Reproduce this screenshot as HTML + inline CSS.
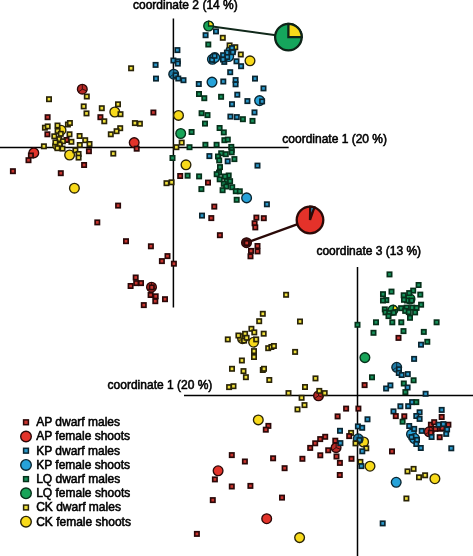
<!DOCTYPE html>
<html><head><meta charset="utf-8"><style>
html,body{margin:0;padding:0;background:#fff;}
body{width:473px;height:556px;overflow:hidden;font-family:"Liberation Sans",sans-serif;}
svg{display:block;}
</style></head><body>
<svg width="473" height="556" viewBox="0 0 473 556">
<rect width="473" height="556" fill="#fff"/>
<line x1="173.4" y1="18.5" x2="173.4" y2="307.5" stroke="#000" stroke-width="1.5"/>
<line x1="0" y1="147.4" x2="288.7" y2="147.4" stroke="#000" stroke-width="1.5"/>
<line x1="357.5" y1="266.9" x2="357.5" y2="556" stroke="#000" stroke-width="1.5"/>
<line x1="184" y1="395.4" x2="473" y2="395.4" stroke="#000" stroke-width="1.5"/>
<line x1="208.6" y1="26.0" x2="276" y2="35.2" stroke="#10281a" stroke-width="2.0"/>
<line x1="246.7" y1="242.6" x2="297" y2="224.4" stroke="#2a0a08" stroke-width="2.2"/>
<circle cx="61.00" cy="130.20" r="4.85" fill="#f8da1a" stroke="#2a2408" stroke-width="1.35"/>
<circle cx="57.60" cy="145.30" r="4.85" fill="#f8da1a" stroke="#2a2408" stroke-width="1.35"/>
<circle cx="69.60" cy="155.00" r="4.85" fill="#f8da1a" stroke="#2a2408" stroke-width="1.35"/>
<circle cx="33.80" cy="152.90" r="4.85" fill="#e2332a" stroke="#2a0808" stroke-width="1.35"/>
<circle cx="74.40" cy="188.20" r="4.85" fill="#f8da1a" stroke="#2a2408" stroke-width="1.35"/>
<circle cx="114.80" cy="112.00" r="4.85" fill="#f8da1a" stroke="#2a2408" stroke-width="1.35"/>
<circle cx="134.20" cy="142.60" r="4.85" fill="#e2332a" stroke="#2a0808" stroke-width="1.35"/>
<circle cx="230.90" cy="50.70" r="4.85" fill="#26a2d9" stroke="#0a2530" stroke-width="1.35"/>
<circle cx="228.70" cy="56.50" r="4.85" fill="#26a2d9" stroke="#0a2530" stroke-width="1.35"/>
<circle cx="212.40" cy="59.30" r="4.85" fill="#26a2d9" stroke="#0a2530" stroke-width="1.35"/>
<circle cx="214.80" cy="57.60" r="4.85" fill="#26a2d9" stroke="#0a2530" stroke-width="1.35"/>
<circle cx="250.00" cy="60.80" r="4.85" fill="#f8da1a" stroke="#2a2408" stroke-width="1.35"/>
<circle cx="212.00" cy="82.10" r="4.85" fill="#26a2d9" stroke="#0a2530" stroke-width="1.35"/>
<circle cx="259.60" cy="100.60" r="4.85" fill="#26a2d9" stroke="#0a2530" stroke-width="1.35"/>
<circle cx="178.50" cy="115.40" r="4.85" fill="#f8da1a" stroke="#2a2408" stroke-width="1.35"/>
<circle cx="180.70" cy="133.50" r="4.85" fill="#17a458" stroke="#06301a" stroke-width="1.35"/>
<circle cx="186.00" cy="164.80" r="4.85" fill="#f8da1a" stroke="#2a2408" stroke-width="1.35"/>
<circle cx="246.60" cy="197.90" r="4.85" fill="#26a2d9" stroke="#0a2530" stroke-width="1.35"/>
<circle cx="410.00" cy="299.00" r="4.85" fill="#17a458" stroke="#06301a" stroke-width="1.35"/>
<circle cx="364.90" cy="357.60" r="4.85" fill="#17a458" stroke="#06301a" stroke-width="1.35"/>
<circle cx="253.60" cy="342.20" r="4.85" fill="#f8da1a" stroke="#2a2408" stroke-width="1.35"/>
<circle cx="258.30" cy="419.90" r="4.85" fill="#f8da1a" stroke="#2a2408" stroke-width="1.35"/>
<circle cx="218.10" cy="470.80" r="4.85" fill="#e2332a" stroke="#2a0808" stroke-width="1.35"/>
<circle cx="266.70" cy="518.70" r="4.85" fill="#e2332a" stroke="#2a0808" stroke-width="1.35"/>
<circle cx="299.60" cy="537.60" r="4.85" fill="#f8da1a" stroke="#2a2408" stroke-width="1.35"/>
<circle cx="363.60" cy="442.00" r="4.85" fill="#f8da1a" stroke="#2a2408" stroke-width="1.35"/>
<circle cx="370.00" cy="466.20" r="4.85" fill="#f8da1a" stroke="#2a2408" stroke-width="1.35"/>
<circle cx="434.90" cy="478.70" r="4.85" fill="#f8da1a" stroke="#2a2408" stroke-width="1.35"/>
<circle cx="396.20" cy="482.30" r="4.85" fill="#26a2d9" stroke="#0a2530" stroke-width="1.35"/>
<circle cx="411.50" cy="434.20" r="4.85" fill="#26a2d9" stroke="#0a2530" stroke-width="1.35"/>
<circle cx="414.50" cy="438.50" r="4.85" fill="#26a2d9" stroke="#0a2530" stroke-width="1.35"/>
<circle cx="208.6" cy="26.0" r="4.85" fill="#17a458" stroke="#06301a" stroke-width="1.35"/><path d="M208.6,26.0 L208.60,21.15 A4.85,4.85 0 0 1 213.45,26.00 Z" fill="#f8da1a" stroke="#06301a" stroke-width="1.35" stroke-linejoin="miter"/>
<circle cx="392.9" cy="310.1" r="4.85" fill="#17a458" stroke="#06301a" stroke-width="1.35"/><path d="M392.9,310.1 L393.74,305.32 A4.85,4.85 0 0 1 397.68,309.26 Z" fill="#f8da1a" stroke="#06301a" stroke-width="1.35" stroke-linejoin="miter"/>
<circle cx="82.30" cy="89.20" r="4.85" fill="#b82a26" stroke="#2a0808" stroke-width="1.35"/><path d="M82.30,89.20 L82.30,84.35 M82.30,89.20 L86.86,90.86 M82.30,89.20 L78.33,91.98 " stroke="#2a0808" stroke-width="0.9" fill="none"/>
<circle cx="173.70" cy="74.20" r="4.85" fill="#1f7aa5" stroke="#0a2530" stroke-width="1.35"/><path d="M173.70,74.20 L173.70,69.35 M173.70,74.20 L178.26,75.86 M173.70,74.20 L169.73,76.98 " stroke="#0a2530" stroke-width="0.9" fill="none"/>
<circle cx="246.50" cy="242.70" r="4.85" fill="#4a1212" stroke="#2a0808" stroke-width="1.35"/>
<circle cx="151.50" cy="287.20" r="4.85" fill="#b82a26" stroke="#2a0808" stroke-width="1.35"/><path d="M151.50,287.20 L151.50,282.35 M151.50,287.20 L156.06,288.86 M151.50,287.20 L147.53,289.98 " stroke="#2a0808" stroke-width="0.9" fill="none"/>
<circle cx="396.70" cy="367.30" r="4.85" fill="#1f7aa5" stroke="#0a2530" stroke-width="1.35"/><path d="M396.70,367.30 L396.70,362.45 M396.70,367.30 L401.26,368.96 M396.70,367.30 L392.73,370.08 " stroke="#0a2530" stroke-width="0.9" fill="none"/>
<circle cx="242.50" cy="338.60" r="4.85" fill="#a89620" stroke="#2a2408" stroke-width="1.35"/><path d="M242.50,338.60 L242.50,333.75 M242.50,338.60 L247.06,340.26 M242.50,338.60 L238.53,341.38 " stroke="#2a2408" stroke-width="0.9" fill="none"/>
<circle cx="318.50" cy="395.80" r="4.85" fill="#b82a26" stroke="#2a0808" stroke-width="1.35"/><path d="M318.50,395.80 L318.50,390.95 M318.50,395.80 L323.06,397.46 M318.50,395.80 L314.53,398.58 " stroke="#2a0808" stroke-width="0.9" fill="none"/>
<circle cx="358.20" cy="438.80" r="4.85" fill="#1f7aa5" stroke="#0a2530" stroke-width="1.35"/><path d="M358.20,438.80 L358.20,433.95 M358.20,438.80 L362.76,440.46 M358.20,438.80 L354.23,441.58 " stroke="#0a2530" stroke-width="0.9" fill="none"/>
<circle cx="336.10" cy="447.60" r="4.85" fill="#b82a26" stroke="#2a0808" stroke-width="1.35"/><path d="M336.10,447.60 L336.10,442.75 M336.10,447.60 L340.66,449.26 M336.10,447.60 L332.13,450.38 " stroke="#2a0808" stroke-width="0.9" fill="none"/>
<circle cx="429.20" cy="431.80" r="4.85" fill="#b82a26" stroke="#2a0808" stroke-width="1.35"/><path d="M429.20,431.80 L429.20,426.95 M429.20,431.80 L433.76,433.46 M429.20,431.80 L425.23,434.58 " stroke="#2a0808" stroke-width="0.9" fill="none"/>
<rect x="84.62" y="94.33" width="4.35" height="4.35" fill="#efe03c" stroke="#2a2408" stroke-width="1.65"/>
<rect x="46.83" y="97.03" width="4.35" height="4.35" fill="#efe03c" stroke="#2a2408" stroke-width="1.65"/>
<rect x="81.53" y="104.23" width="4.35" height="4.35" fill="#efe03c" stroke="#2a2408" stroke-width="1.65"/>
<rect x="84.33" y="111.23" width="4.35" height="4.35" fill="#efe03c" stroke="#2a2408" stroke-width="1.65"/>
<rect x="45.43" y="115.03" width="4.35" height="4.35" fill="#c8352f" stroke="#2a0808" stroke-width="1.65"/>
<rect x="42.73" y="125.53" width="4.35" height="4.35" fill="#efe03c" stroke="#2a2408" stroke-width="1.65"/>
<rect x="45.53" y="124.23" width="4.35" height="4.35" fill="#efe03c" stroke="#2a2408" stroke-width="1.65"/>
<rect x="55.33" y="123.33" width="4.35" height="4.35" fill="#efe03c" stroke="#2a2408" stroke-width="1.65"/>
<rect x="65.73" y="122.33" width="4.35" height="4.35" fill="#efe03c" stroke="#2a2408" stroke-width="1.65"/>
<rect x="67.73" y="120.83" width="4.35" height="4.35" fill="#efe03c" stroke="#2a2408" stroke-width="1.65"/>
<rect x="55.43" y="128.72" width="4.35" height="4.35" fill="#efe03c" stroke="#2a2408" stroke-width="1.65"/>
<rect x="58.62" y="131.62" width="4.35" height="4.35" fill="#efe03c" stroke="#2a2408" stroke-width="1.65"/>
<rect x="45.23" y="132.12" width="4.35" height="4.35" fill="#c8352f" stroke="#2a0808" stroke-width="1.65"/>
<rect x="52.12" y="134.12" width="4.35" height="4.35" fill="#efe03c" stroke="#2a2408" stroke-width="1.65"/>
<rect x="67.33" y="132.12" width="4.35" height="4.35" fill="#efe03c" stroke="#2a2408" stroke-width="1.65"/>
<rect x="77.42" y="133.82" width="4.35" height="4.35" fill="#efe03c" stroke="#2a2408" stroke-width="1.65"/>
<rect x="57.12" y="136.92" width="4.35" height="4.35" fill="#efe03c" stroke="#2a2408" stroke-width="1.65"/>
<rect x="64.33" y="137.82" width="4.35" height="4.35" fill="#c8352f" stroke="#2a0808" stroke-width="1.65"/>
<rect x="60.73" y="139.12" width="4.35" height="4.35" fill="#efe03c" stroke="#2a2408" stroke-width="1.65"/>
<rect x="69.23" y="139.62" width="4.35" height="4.35" fill="#efe03c" stroke="#2a2408" stroke-width="1.65"/>
<rect x="83.03" y="138.02" width="4.35" height="4.35" fill="#efe03c" stroke="#2a2408" stroke-width="1.65"/>
<rect x="87.33" y="141.82" width="4.35" height="4.35" fill="#efe03c" stroke="#2a2408" stroke-width="1.65"/>
<rect x="77.62" y="142.82" width="4.35" height="4.35" fill="#efe03c" stroke="#2a2408" stroke-width="1.65"/>
<rect x="57.53" y="142.42" width="4.35" height="4.35" fill="#efe03c" stroke="#2a2408" stroke-width="1.65"/>
<rect x="53.23" y="140.22" width="4.35" height="4.35" fill="#efe03c" stroke="#2a2408" stroke-width="1.65"/>
<rect x="60.33" y="146.42" width="4.35" height="4.35" fill="#efe03c" stroke="#2a2408" stroke-width="1.65"/>
<rect x="55.23" y="146.02" width="4.35" height="4.35" fill="#efe03c" stroke="#2a2408" stroke-width="1.65"/>
<rect x="41.73" y="144.12" width="4.35" height="4.35" fill="#efe03c" stroke="#2a2408" stroke-width="1.65"/>
<rect x="73.23" y="148.12" width="4.35" height="4.35" fill="#efe03c" stroke="#2a2408" stroke-width="1.65"/>
<rect x="76.42" y="151.82" width="4.35" height="4.35" fill="#efe03c" stroke="#2a2408" stroke-width="1.65"/>
<rect x="76.42" y="155.42" width="4.35" height="4.35" fill="#efe03c" stroke="#2a2408" stroke-width="1.65"/>
<rect x="86.73" y="149.02" width="4.35" height="4.35" fill="#c8352f" stroke="#2a0808" stroke-width="1.65"/>
<rect x="28.72" y="153.32" width="4.35" height="4.35" fill="#c8352f" stroke="#2a0808" stroke-width="1.65"/>
<rect x="26.32" y="158.02" width="4.35" height="4.35" fill="#c8352f" stroke="#2a0808" stroke-width="1.65"/>
<rect x="81.92" y="162.82" width="4.35" height="4.35" fill="#c8352f" stroke="#2a0808" stroke-width="1.65"/>
<rect x="10.73" y="169.02" width="4.35" height="4.35" fill="#c8352f" stroke="#2a0808" stroke-width="1.65"/>
<rect x="58.62" y="171.02" width="4.35" height="4.35" fill="#c8352f" stroke="#2a0808" stroke-width="1.65"/>
<rect x="95.12" y="220.22" width="4.35" height="4.35" fill="#c8352f" stroke="#2a0808" stroke-width="1.65"/>
<rect x="99.62" y="106.03" width="4.35" height="4.35" fill="#efe03c" stroke="#2a2408" stroke-width="1.65"/>
<rect x="115.83" y="102.12" width="4.35" height="4.35" fill="#efe03c" stroke="#2a2408" stroke-width="1.65"/>
<rect x="118.33" y="112.03" width="4.35" height="4.35" fill="#efe03c" stroke="#2a2408" stroke-width="1.65"/>
<rect x="98.23" y="115.03" width="4.35" height="4.35" fill="#c8352f" stroke="#2a0808" stroke-width="1.65"/>
<rect x="102.12" y="119.12" width="4.35" height="4.35" fill="#efe03c" stroke="#2a2408" stroke-width="1.65"/>
<rect x="132.72" y="120.92" width="4.35" height="4.35" fill="#efe03c" stroke="#2a2408" stroke-width="1.65"/>
<rect x="137.72" y="121.53" width="4.35" height="4.35" fill="#efe03c" stroke="#2a2408" stroke-width="1.65"/>
<rect x="151.22" y="110.33" width="4.35" height="4.35" fill="#c8352f" stroke="#2a0808" stroke-width="1.65"/>
<rect x="118.03" y="126.02" width="4.35" height="4.35" fill="#efe03c" stroke="#2a2408" stroke-width="1.65"/>
<rect x="114.42" y="129.02" width="4.35" height="4.35" fill="#efe03c" stroke="#2a2408" stroke-width="1.65"/>
<rect x="108.62" y="132.12" width="4.35" height="4.35" fill="#efe03c" stroke="#2a2408" stroke-width="1.65"/>
<rect x="134.52" y="146.52" width="4.35" height="4.35" fill="#c8352f" stroke="#2a0808" stroke-width="1.65"/>
<rect x="111.12" y="151.42" width="4.35" height="4.35" fill="#efe03c" stroke="#2a2408" stroke-width="1.65"/>
<rect x="128.92" y="66.12" width="4.35" height="4.35" fill="#efe03c" stroke="#2a2408" stroke-width="1.65"/>
<rect x="153.42" y="62.73" width="4.35" height="4.35" fill="#2a97c9" stroke="#0a2530" stroke-width="1.65"/>
<rect x="153.82" y="76.42" width="4.35" height="4.35" fill="#2a97c9" stroke="#0a2530" stroke-width="1.65"/>
<rect x="175.22" y="47.93" width="4.35" height="4.35" fill="#2a97c9" stroke="#0a2530" stroke-width="1.65"/>
<rect x="171.22" y="58.33" width="4.35" height="4.35" fill="#2a97c9" stroke="#0a2530" stroke-width="1.65"/>
<rect x="175.62" y="59.12" width="4.35" height="4.35" fill="#2a97c9" stroke="#0a2530" stroke-width="1.65"/>
<rect x="175.62" y="61.43" width="4.35" height="4.35" fill="#2a97c9" stroke="#0a2530" stroke-width="1.65"/>
<rect x="173.42" y="73.12" width="4.35" height="4.35" fill="#2a97c9" stroke="#0a2530" stroke-width="1.65"/>
<rect x="176.12" y="76.33" width="4.35" height="4.35" fill="#2a97c9" stroke="#0a2530" stroke-width="1.65"/>
<rect x="181.32" y="78.03" width="4.35" height="4.35" fill="#2a97c9" stroke="#0a2530" stroke-width="1.65"/>
<rect x="196.62" y="81.83" width="4.35" height="4.35" fill="#2a97c9" stroke="#0a2530" stroke-width="1.65"/>
<rect x="213.82" y="29.22" width="4.35" height="4.35" fill="#2a97c9" stroke="#0a2530" stroke-width="1.65"/>
<rect x="203.42" y="33.03" width="4.35" height="4.35" fill="#2a97c9" stroke="#0a2530" stroke-width="1.65"/>
<rect x="220.62" y="35.62" width="4.35" height="4.35" fill="#efe03c" stroke="#2a2408" stroke-width="1.65"/>
<rect x="206.12" y="42.33" width="4.35" height="4.35" fill="#17905a" stroke="#06301a" stroke-width="1.65"/>
<rect x="227.42" y="43.23" width="4.35" height="4.35" fill="#efe03c" stroke="#2a2408" stroke-width="1.65"/>
<rect x="233.12" y="45.03" width="4.35" height="4.35" fill="#efe03c" stroke="#2a2408" stroke-width="1.65"/>
<rect x="229.82" y="45.93" width="4.35" height="4.35" fill="#2a97c9" stroke="#0a2530" stroke-width="1.65"/>
<rect x="224.72" y="50.43" width="4.35" height="4.35" fill="#2a97c9" stroke="#0a2530" stroke-width="1.65"/>
<rect x="230.62" y="50.03" width="4.35" height="4.35" fill="#2a97c9" stroke="#0a2530" stroke-width="1.65"/>
<rect x="220.92" y="53.03" width="4.35" height="4.35" fill="#2a97c9" stroke="#0a2530" stroke-width="1.65"/>
<rect x="225.02" y="54.83" width="4.35" height="4.35" fill="#2a97c9" stroke="#0a2530" stroke-width="1.65"/>
<rect x="222.12" y="59.73" width="4.35" height="4.35" fill="#2a97c9" stroke="#0a2530" stroke-width="1.65"/>
<rect x="220.82" y="57.33" width="4.35" height="4.35" fill="#2a97c9" stroke="#0a2530" stroke-width="1.65"/>
<rect x="209.82" y="57.62" width="4.35" height="4.35" fill="#2a97c9" stroke="#0a2530" stroke-width="1.65"/>
<rect x="212.42" y="53.62" width="4.35" height="4.35" fill="#2a97c9" stroke="#0a2530" stroke-width="1.65"/>
<rect x="238.62" y="52.33" width="4.35" height="4.35" fill="#efe03c" stroke="#2a2408" stroke-width="1.65"/>
<rect x="234.32" y="59.12" width="4.35" height="4.35" fill="#2a97c9" stroke="#0a2530" stroke-width="1.65"/>
<rect x="238.92" y="64.03" width="4.35" height="4.35" fill="#2a97c9" stroke="#0a2530" stroke-width="1.65"/>
<rect x="221.12" y="79.33" width="4.35" height="4.35" fill="#2a97c9" stroke="#0a2530" stroke-width="1.65"/>
<rect x="233.42" y="77.92" width="4.35" height="4.35" fill="#2a97c9" stroke="#0a2530" stroke-width="1.65"/>
<rect x="233.42" y="82.12" width="4.35" height="4.35" fill="#2a97c9" stroke="#0a2530" stroke-width="1.65"/>
<rect x="228.02" y="70.03" width="4.35" height="4.35" fill="#2a97c9" stroke="#0a2530" stroke-width="1.65"/>
<rect x="252.82" y="76.42" width="4.35" height="4.35" fill="#2a97c9" stroke="#0a2530" stroke-width="1.65"/>
<rect x="261.32" y="86.23" width="4.35" height="4.35" fill="#2a97c9" stroke="#0a2530" stroke-width="1.65"/>
<rect x="235.12" y="92.53" width="4.35" height="4.35" fill="#2a97c9" stroke="#0a2530" stroke-width="1.65"/>
<rect x="259.93" y="99.23" width="4.35" height="4.35" fill="#2a97c9" stroke="#0a2530" stroke-width="1.65"/>
<rect x="245.22" y="98.92" width="4.35" height="4.35" fill="#2a97c9" stroke="#0a2530" stroke-width="1.65"/>
<rect x="229.82" y="102.03" width="4.35" height="4.35" fill="#2a97c9" stroke="#0a2530" stroke-width="1.65"/>
<rect x="252.32" y="110.23" width="4.35" height="4.35" fill="#2a97c9" stroke="#0a2530" stroke-width="1.65"/>
<rect x="228.22" y="114.42" width="4.35" height="4.35" fill="#2a97c9" stroke="#0a2530" stroke-width="1.65"/>
<rect x="234.62" y="114.92" width="4.35" height="4.35" fill="#2a97c9" stroke="#0a2530" stroke-width="1.65"/>
<rect x="240.72" y="117.03" width="4.35" height="4.35" fill="#17905a" stroke="#06301a" stroke-width="1.65"/>
<rect x="250.32" y="118.73" width="4.35" height="4.35" fill="#17905a" stroke="#06301a" stroke-width="1.65"/>
<rect x="196.82" y="91.83" width="4.35" height="4.35" fill="#17905a" stroke="#06301a" stroke-width="1.65"/>
<rect x="202.12" y="96.03" width="4.35" height="4.35" fill="#17905a" stroke="#06301a" stroke-width="1.65"/>
<rect x="218.92" y="94.62" width="4.35" height="4.35" fill="#17905a" stroke="#06301a" stroke-width="1.65"/>
<rect x="199.42" y="111.03" width="4.35" height="4.35" fill="#17905a" stroke="#06301a" stroke-width="1.65"/>
<rect x="205.32" y="112.92" width="4.35" height="4.35" fill="#17905a" stroke="#06301a" stroke-width="1.65"/>
<rect x="202.82" y="121.42" width="4.35" height="4.35" fill="#17905a" stroke="#06301a" stroke-width="1.65"/>
<rect x="189.42" y="129.82" width="4.35" height="4.35" fill="#17905a" stroke="#06301a" stroke-width="1.65"/>
<rect x="217.42" y="125.83" width="4.35" height="4.35" fill="#17905a" stroke="#06301a" stroke-width="1.65"/>
<rect x="221.62" y="130.22" width="4.35" height="4.35" fill="#17905a" stroke="#06301a" stroke-width="1.65"/>
<rect x="222.22" y="138.02" width="4.35" height="4.35" fill="#17905a" stroke="#06301a" stroke-width="1.65"/>
<rect x="225.62" y="137.42" width="4.35" height="4.35" fill="#17905a" stroke="#06301a" stroke-width="1.65"/>
<rect x="179.52" y="140.42" width="4.35" height="4.35" fill="#efe03c" stroke="#2a2408" stroke-width="1.65"/>
<rect x="203.22" y="142.62" width="4.35" height="4.35" fill="#17905a" stroke="#06301a" stroke-width="1.65"/>
<rect x="214.42" y="142.62" width="4.35" height="4.35" fill="#17905a" stroke="#06301a" stroke-width="1.65"/>
<rect x="174.22" y="145.02" width="4.35" height="4.35" fill="#efe03c" stroke="#2a2408" stroke-width="1.65"/>
<rect x="187.32" y="145.02" width="4.35" height="4.35" fill="#17905a" stroke="#06301a" stroke-width="1.65"/>
<rect x="229.12" y="144.72" width="4.35" height="4.35" fill="#17905a" stroke="#06301a" stroke-width="1.65"/>
<rect x="229.52" y="147.62" width="4.35" height="4.35" fill="#17905a" stroke="#06301a" stroke-width="1.65"/>
<rect x="229.52" y="150.12" width="4.35" height="4.35" fill="#17905a" stroke="#06301a" stroke-width="1.65"/>
<rect x="219.02" y="151.12" width="4.35" height="4.35" fill="#17905a" stroke="#06301a" stroke-width="1.65"/>
<rect x="223.62" y="152.02" width="4.35" height="4.35" fill="#17905a" stroke="#06301a" stroke-width="1.65"/>
<rect x="215.82" y="154.32" width="4.35" height="4.35" fill="#17905a" stroke="#06301a" stroke-width="1.65"/>
<rect x="217.02" y="158.22" width="4.35" height="4.35" fill="#17905a" stroke="#06301a" stroke-width="1.65"/>
<rect x="207.22" y="153.92" width="4.35" height="4.35" fill="#2a97c9" stroke="#0a2530" stroke-width="1.65"/>
<rect x="225.52" y="159.12" width="4.35" height="4.35" fill="#2a97c9" stroke="#0a2530" stroke-width="1.65"/>
<rect x="232.22" y="156.92" width="4.35" height="4.35" fill="#17905a" stroke="#06301a" stroke-width="1.65"/>
<rect x="170.32" y="155.82" width="4.35" height="4.35" fill="#17905a" stroke="#06301a" stroke-width="1.65"/>
<rect x="217.82" y="164.92" width="4.35" height="4.35" fill="#17905a" stroke="#06301a" stroke-width="1.65"/>
<rect x="216.82" y="170.42" width="4.35" height="4.35" fill="#17905a" stroke="#06301a" stroke-width="1.65"/>
<rect x="214.52" y="172.02" width="4.35" height="4.35" fill="#17905a" stroke="#06301a" stroke-width="1.65"/>
<rect x="178.02" y="173.82" width="4.35" height="4.35" fill="#c8352f" stroke="#2a0808" stroke-width="1.65"/>
<rect x="185.42" y="173.52" width="4.35" height="4.35" fill="#17905a" stroke="#06301a" stroke-width="1.65"/>
<rect x="196.92" y="174.22" width="4.35" height="4.35" fill="#17905a" stroke="#06301a" stroke-width="1.65"/>
<rect x="226.52" y="173.32" width="4.35" height="4.35" fill="#17905a" stroke="#06301a" stroke-width="1.65"/>
<rect x="222.82" y="174.32" width="4.35" height="4.35" fill="#17905a" stroke="#06301a" stroke-width="1.65"/>
<rect x="217.52" y="177.12" width="4.35" height="4.35" fill="#17905a" stroke="#06301a" stroke-width="1.65"/>
<rect x="224.42" y="179.02" width="4.35" height="4.35" fill="#17905a" stroke="#06301a" stroke-width="1.65"/>
<rect x="227.92" y="179.02" width="4.35" height="4.35" fill="#17905a" stroke="#06301a" stroke-width="1.65"/>
<rect x="205.82" y="180.42" width="4.35" height="4.35" fill="#c8352f" stroke="#2a0808" stroke-width="1.65"/>
<rect x="199.22" y="186.92" width="4.35" height="4.35" fill="#17905a" stroke="#06301a" stroke-width="1.65"/>
<rect x="221.62" y="181.62" width="4.35" height="4.35" fill="#17905a" stroke="#06301a" stroke-width="1.65"/>
<rect x="224.12" y="184.32" width="4.35" height="4.35" fill="#17905a" stroke="#06301a" stroke-width="1.65"/>
<rect x="230.02" y="185.02" width="4.35" height="4.35" fill="#17905a" stroke="#06301a" stroke-width="1.65"/>
<rect x="220.42" y="188.02" width="4.35" height="4.35" fill="#17905a" stroke="#06301a" stroke-width="1.65"/>
<rect x="233.62" y="189.02" width="4.35" height="4.35" fill="#17905a" stroke="#06301a" stroke-width="1.65"/>
<rect x="237.62" y="189.12" width="4.35" height="4.35" fill="#17905a" stroke="#06301a" stroke-width="1.65"/>
<rect x="169.42" y="180.12" width="4.35" height="4.35" fill="#efe03c" stroke="#2a2408" stroke-width="1.65"/>
<rect x="164.32" y="181.02" width="4.35" height="4.35" fill="#efe03c" stroke="#2a2408" stroke-width="1.65"/>
<rect x="234.52" y="197.62" width="4.35" height="4.35" fill="#17905a" stroke="#06301a" stroke-width="1.65"/>
<rect x="264.72" y="202.12" width="4.35" height="4.35" fill="#2a97c9" stroke="#0a2530" stroke-width="1.65"/>
<rect x="255.32" y="163.42" width="4.35" height="4.35" fill="#2a97c9" stroke="#0a2530" stroke-width="1.65"/>
<rect x="212.12" y="204.42" width="4.35" height="4.35" fill="#c8352f" stroke="#2a0808" stroke-width="1.65"/>
<rect x="199.82" y="213.42" width="4.35" height="4.35" fill="#2a97c9" stroke="#0a2530" stroke-width="1.65"/>
<rect x="209.12" y="215.92" width="4.35" height="4.35" fill="#c8352f" stroke="#2a0808" stroke-width="1.65"/>
<rect x="217.72" y="233.02" width="4.35" height="4.35" fill="#c8352f" stroke="#2a0808" stroke-width="1.65"/>
<rect x="254.22" y="215.42" width="4.35" height="4.35" fill="#c8352f" stroke="#2a0808" stroke-width="1.65"/>
<rect x="261.62" y="216.02" width="4.35" height="4.35" fill="#c8352f" stroke="#2a0808" stroke-width="1.65"/>
<rect x="252.42" y="221.12" width="4.35" height="4.35" fill="#c8352f" stroke="#2a0808" stroke-width="1.65"/>
<rect x="253.12" y="225.22" width="4.35" height="4.35" fill="#c8352f" stroke="#2a0808" stroke-width="1.65"/>
<rect x="244.52" y="240.82" width="4.35" height="4.35" fill="#c8352f" stroke="#2a0808" stroke-width="1.65"/>
<rect x="255.32" y="243.82" width="4.35" height="4.35" fill="#c8352f" stroke="#2a0808" stroke-width="1.65"/>
<rect x="255.32" y="249.22" width="4.35" height="4.35" fill="#c8352f" stroke="#2a0808" stroke-width="1.65"/>
<rect x="248.82" y="248.72" width="4.35" height="4.35" fill="#c8352f" stroke="#2a0808" stroke-width="1.65"/>
<rect x="248.32" y="254.12" width="4.35" height="4.35" fill="#c8352f" stroke="#2a0808" stroke-width="1.65"/>
<rect x="115.92" y="203.42" width="4.35" height="4.35" fill="#c8352f" stroke="#2a0808" stroke-width="1.65"/>
<rect x="123.83" y="239.02" width="4.35" height="4.35" fill="#c8352f" stroke="#2a0808" stroke-width="1.65"/>
<rect x="148.72" y="244.12" width="4.35" height="4.35" fill="#c8352f" stroke="#2a0808" stroke-width="1.65"/>
<rect x="165.32" y="253.93" width="4.35" height="4.35" fill="#c8352f" stroke="#2a0808" stroke-width="1.65"/>
<rect x="159.72" y="258.93" width="4.35" height="4.35" fill="#c8352f" stroke="#2a0808" stroke-width="1.65"/>
<rect x="171.72" y="261.52" width="4.35" height="4.35" fill="#c8352f" stroke="#2a0808" stroke-width="1.65"/>
<rect x="133.52" y="275.32" width="4.35" height="4.35" fill="#c8352f" stroke="#2a0808" stroke-width="1.65"/>
<rect x="134.02" y="280.93" width="4.35" height="4.35" fill="#c8352f" stroke="#2a0808" stroke-width="1.65"/>
<rect x="138.82" y="280.93" width="4.35" height="4.35" fill="#c8352f" stroke="#2a0808" stroke-width="1.65"/>
<rect x="128.42" y="283.82" width="4.35" height="4.35" fill="#c8352f" stroke="#2a0808" stroke-width="1.65"/>
<rect x="149.62" y="285.22" width="4.35" height="4.35" fill="#c8352f" stroke="#2a0808" stroke-width="1.65"/>
<rect x="148.42" y="292.82" width="4.35" height="4.35" fill="#c8352f" stroke="#2a0808" stroke-width="1.65"/>
<rect x="153.52" y="294.12" width="4.35" height="4.35" fill="#c8352f" stroke="#2a0808" stroke-width="1.65"/>
<rect x="153.12" y="299.02" width="4.35" height="4.35" fill="#c8352f" stroke="#2a0808" stroke-width="1.65"/>
<rect x="162.82" y="297.02" width="4.35" height="4.35" fill="#c8352f" stroke="#2a0808" stroke-width="1.65"/>
<rect x="141.62" y="302.93" width="4.35" height="4.35" fill="#c8352f" stroke="#2a0808" stroke-width="1.65"/>
<rect x="387.32" y="272.22" width="4.35" height="4.35" fill="#17905a" stroke="#06301a" stroke-width="1.65"/>
<rect x="416.43" y="282.82" width="4.35" height="4.35" fill="#17905a" stroke="#06301a" stroke-width="1.65"/>
<rect x="389.32" y="289.43" width="4.35" height="4.35" fill="#17905a" stroke="#06301a" stroke-width="1.65"/>
<rect x="380.82" y="292.02" width="4.35" height="4.35" fill="#17905a" stroke="#06301a" stroke-width="1.65"/>
<rect x="384.12" y="297.93" width="4.35" height="4.35" fill="#17905a" stroke="#06301a" stroke-width="1.65"/>
<rect x="380.82" y="298.32" width="4.35" height="4.35" fill="#17905a" stroke="#06301a" stroke-width="1.65"/>
<rect x="411.02" y="288.43" width="4.35" height="4.35" fill="#17905a" stroke="#06301a" stroke-width="1.65"/>
<rect x="407.02" y="290.93" width="4.35" height="4.35" fill="#17905a" stroke="#06301a" stroke-width="1.65"/>
<rect x="418.12" y="292.43" width="4.35" height="4.35" fill="#17905a" stroke="#06301a" stroke-width="1.65"/>
<rect x="401.52" y="293.12" width="4.35" height="4.35" fill="#17905a" stroke="#06301a" stroke-width="1.65"/>
<rect x="404.82" y="298.32" width="4.35" height="4.35" fill="#17905a" stroke="#06301a" stroke-width="1.65"/>
<rect x="409.52" y="298.32" width="4.35" height="4.35" fill="#17905a" stroke="#06301a" stroke-width="1.65"/>
<rect x="401.82" y="297.62" width="4.35" height="4.35" fill="#17905a" stroke="#06301a" stroke-width="1.65"/>
<rect x="418.93" y="302.52" width="4.35" height="4.35" fill="#17905a" stroke="#06301a" stroke-width="1.65"/>
<rect x="382.62" y="307.22" width="4.35" height="4.35" fill="#17905a" stroke="#06301a" stroke-width="1.65"/>
<rect x="383.32" y="310.22" width="4.35" height="4.35" fill="#17905a" stroke="#06301a" stroke-width="1.65"/>
<rect x="387.02" y="310.93" width="4.35" height="4.35" fill="#17905a" stroke="#06301a" stroke-width="1.65"/>
<rect x="386.32" y="313.93" width="4.35" height="4.35" fill="#17905a" stroke="#06301a" stroke-width="1.65"/>
<rect x="391.52" y="310.52" width="4.35" height="4.35" fill="#17905a" stroke="#06301a" stroke-width="1.65"/>
<rect x="398.93" y="306.02" width="4.35" height="4.35" fill="#17905a" stroke="#06301a" stroke-width="1.65"/>
<rect x="404.52" y="305.43" width="4.35" height="4.35" fill="#17905a" stroke="#06301a" stroke-width="1.65"/>
<rect x="410.02" y="305.43" width="4.35" height="4.35" fill="#17905a" stroke="#06301a" stroke-width="1.65"/>
<rect x="414.43" y="305.72" width="4.35" height="4.35" fill="#17905a" stroke="#06301a" stroke-width="1.65"/>
<rect x="403.02" y="308.72" width="4.35" height="4.35" fill="#17905a" stroke="#06301a" stroke-width="1.65"/>
<rect x="406.62" y="309.93" width="4.35" height="4.35" fill="#17905a" stroke="#06301a" stroke-width="1.65"/>
<rect x="412.93" y="310.22" width="4.35" height="4.35" fill="#17905a" stroke="#06301a" stroke-width="1.65"/>
<rect x="407.82" y="315.62" width="4.35" height="4.35" fill="#17905a" stroke="#06301a" stroke-width="1.65"/>
<rect x="373.82" y="320.12" width="4.35" height="4.35" fill="#17905a" stroke="#06301a" stroke-width="1.65"/>
<rect x="390.12" y="320.12" width="4.35" height="4.35" fill="#17905a" stroke="#06301a" stroke-width="1.65"/>
<rect x="399.12" y="320.12" width="4.35" height="4.35" fill="#17905a" stroke="#06301a" stroke-width="1.65"/>
<rect x="434.43" y="320.12" width="4.35" height="4.35" fill="#17905a" stroke="#06301a" stroke-width="1.65"/>
<rect x="355.32" y="322.62" width="4.35" height="4.35" fill="#17905a" stroke="#06301a" stroke-width="1.65"/>
<rect x="371.32" y="330.62" width="4.35" height="4.35" fill="#17905a" stroke="#06301a" stroke-width="1.65"/>
<rect x="401.32" y="328.93" width="4.35" height="4.35" fill="#17905a" stroke="#06301a" stroke-width="1.65"/>
<rect x="396.32" y="335.72" width="4.35" height="4.35" fill="#c8352f" stroke="#2a0808" stroke-width="1.65"/>
<rect x="421.62" y="329.72" width="4.35" height="4.35" fill="#17905a" stroke="#06301a" stroke-width="1.65"/>
<rect x="425.12" y="339.62" width="4.35" height="4.35" fill="#17905a" stroke="#06301a" stroke-width="1.65"/>
<rect x="418.82" y="342.52" width="4.35" height="4.35" fill="#2a97c9" stroke="#0a2530" stroke-width="1.65"/>
<rect x="411.93" y="356.72" width="4.35" height="4.35" fill="#2a97c9" stroke="#0a2530" stroke-width="1.65"/>
<rect x="396.82" y="367.12" width="4.35" height="4.35" fill="#2a97c9" stroke="#0a2530" stroke-width="1.65"/>
<rect x="396.62" y="370.82" width="4.35" height="4.35" fill="#2a97c9" stroke="#0a2530" stroke-width="1.65"/>
<rect x="399.52" y="372.82" width="4.35" height="4.35" fill="#2a97c9" stroke="#0a2530" stroke-width="1.65"/>
<rect x="405.62" y="371.93" width="4.35" height="4.35" fill="#2a97c9" stroke="#0a2530" stroke-width="1.65"/>
<rect x="369.82" y="375.12" width="4.35" height="4.35" fill="#17905a" stroke="#06301a" stroke-width="1.65"/>
<rect x="411.43" y="378.12" width="4.35" height="4.35" fill="#17905a" stroke="#06301a" stroke-width="1.65"/>
<rect x="401.62" y="381.32" width="4.35" height="4.35" fill="#17905a" stroke="#06301a" stroke-width="1.65"/>
<rect x="362.43" y="382.93" width="4.35" height="4.35" fill="#c8352f" stroke="#2a0808" stroke-width="1.65"/>
<rect x="388.22" y="383.22" width="4.35" height="4.35" fill="#2a97c9" stroke="#0a2530" stroke-width="1.65"/>
<rect x="383.93" y="386.32" width="4.35" height="4.35" fill="#2a97c9" stroke="#0a2530" stroke-width="1.65"/>
<rect x="405.43" y="385.32" width="4.35" height="4.35" fill="#2a97c9" stroke="#0a2530" stroke-width="1.65"/>
<rect x="403.22" y="389.93" width="4.35" height="4.35" fill="#17905a" stroke="#06301a" stroke-width="1.65"/>
<rect x="423.43" y="391.62" width="4.35" height="4.35" fill="#2a97c9" stroke="#0a2530" stroke-width="1.65"/>
<rect x="283.93" y="292.62" width="4.35" height="4.35" fill="#efe03c" stroke="#2a2408" stroke-width="1.65"/>
<rect x="260.62" y="311.62" width="4.35" height="4.35" fill="#efe03c" stroke="#2a2408" stroke-width="1.65"/>
<rect x="257.02" y="319.02" width="4.35" height="4.35" fill="#efe03c" stroke="#2a2408" stroke-width="1.65"/>
<rect x="297.82" y="319.32" width="4.35" height="4.35" fill="#efe03c" stroke="#2a2408" stroke-width="1.65"/>
<rect x="249.22" y="326.62" width="4.35" height="4.35" fill="#efe03c" stroke="#2a2408" stroke-width="1.65"/>
<rect x="252.12" y="330.22" width="4.35" height="4.35" fill="#efe03c" stroke="#2a2408" stroke-width="1.65"/>
<rect x="261.52" y="331.52" width="4.35" height="4.35" fill="#efe03c" stroke="#2a2408" stroke-width="1.65"/>
<rect x="225.62" y="337.22" width="4.35" height="4.35" fill="#efe03c" stroke="#2a2408" stroke-width="1.65"/>
<rect x="236.22" y="333.32" width="4.35" height="4.35" fill="#efe03c" stroke="#2a2408" stroke-width="1.65"/>
<rect x="242.92" y="331.62" width="4.35" height="4.35" fill="#efe03c" stroke="#2a2408" stroke-width="1.65"/>
<rect x="241.92" y="338.43" width="4.35" height="4.35" fill="#efe03c" stroke="#2a2408" stroke-width="1.65"/>
<rect x="244.42" y="335.62" width="4.35" height="4.35" fill="#efe03c" stroke="#2a2408" stroke-width="1.65"/>
<rect x="254.02" y="337.22" width="4.35" height="4.35" fill="#efe03c" stroke="#2a2408" stroke-width="1.65"/>
<rect x="251.82" y="348.93" width="4.35" height="4.35" fill="#efe03c" stroke="#2a2408" stroke-width="1.65"/>
<rect x="251.82" y="354.82" width="4.35" height="4.35" fill="#efe03c" stroke="#2a2408" stroke-width="1.65"/>
<rect x="266.02" y="346.02" width="4.35" height="4.35" fill="#efe03c" stroke="#2a2408" stroke-width="1.65"/>
<rect x="269.22" y="344.82" width="4.35" height="4.35" fill="#efe03c" stroke="#2a2408" stroke-width="1.65"/>
<rect x="271.72" y="343.82" width="4.35" height="4.35" fill="#efe03c" stroke="#2a2408" stroke-width="1.65"/>
<rect x="292.93" y="349.72" width="4.35" height="4.35" fill="#efe03c" stroke="#2a2408" stroke-width="1.65"/>
<rect x="239.72" y="358.32" width="4.35" height="4.35" fill="#efe03c" stroke="#2a2408" stroke-width="1.65"/>
<rect x="229.82" y="366.62" width="4.35" height="4.35" fill="#efe03c" stroke="#2a2408" stroke-width="1.65"/>
<rect x="241.32" y="368.93" width="4.35" height="4.35" fill="#efe03c" stroke="#2a2408" stroke-width="1.65"/>
<rect x="260.62" y="367.82" width="4.35" height="4.35" fill="#efe03c" stroke="#2a2408" stroke-width="1.65"/>
<rect x="261.82" y="366.62" width="4.35" height="4.35" fill="#efe03c" stroke="#2a2408" stroke-width="1.65"/>
<rect x="243.72" y="375.02" width="4.35" height="4.35" fill="#efe03c" stroke="#2a2408" stroke-width="1.65"/>
<rect x="267.12" y="377.82" width="4.35" height="4.35" fill="#efe03c" stroke="#2a2408" stroke-width="1.65"/>
<rect x="226.92" y="384.93" width="4.35" height="4.35" fill="#efe03c" stroke="#2a2408" stroke-width="1.65"/>
<rect x="231.32" y="384.02" width="4.35" height="4.35" fill="#efe03c" stroke="#2a2408" stroke-width="1.65"/>
<rect x="313.32" y="376.22" width="4.35" height="4.35" fill="#efe03c" stroke="#2a2408" stroke-width="1.65"/>
<rect x="302.82" y="384.82" width="4.35" height="4.35" fill="#efe03c" stroke="#2a2408" stroke-width="1.65"/>
<rect x="286.32" y="390.93" width="4.35" height="4.35" fill="#efe03c" stroke="#2a2408" stroke-width="1.65"/>
<rect x="299.43" y="395.62" width="4.35" height="4.35" fill="#efe03c" stroke="#2a2408" stroke-width="1.65"/>
<rect x="317.12" y="388.72" width="4.35" height="4.35" fill="#efe03c" stroke="#2a2408" stroke-width="1.65"/>
<rect x="322.52" y="390.93" width="4.35" height="4.35" fill="#efe03c" stroke="#2a2408" stroke-width="1.65"/>
<rect x="302.32" y="402.93" width="4.35" height="4.35" fill="#efe03c" stroke="#2a2408" stroke-width="1.65"/>
<rect x="295.32" y="407.22" width="4.35" height="4.35" fill="#efe03c" stroke="#2a2408" stroke-width="1.65"/>
<rect x="266.22" y="423.72" width="4.35" height="4.35" fill="#c8352f" stroke="#2a0808" stroke-width="1.65"/>
<rect x="263.62" y="427.52" width="4.35" height="4.35" fill="#c8352f" stroke="#2a0808" stroke-width="1.65"/>
<rect x="229.62" y="452.93" width="4.35" height="4.35" fill="#c8352f" stroke="#2a0808" stroke-width="1.65"/>
<rect x="242.72" y="459.32" width="4.35" height="4.35" fill="#c8352f" stroke="#2a0808" stroke-width="1.65"/>
<rect x="270.93" y="456.12" width="4.35" height="4.35" fill="#c8352f" stroke="#2a0808" stroke-width="1.65"/>
<rect x="212.72" y="477.22" width="4.35" height="4.35" fill="#c8352f" stroke="#2a0808" stroke-width="1.65"/>
<rect x="229.62" y="484.32" width="4.35" height="4.35" fill="#c8352f" stroke="#2a0808" stroke-width="1.65"/>
<rect x="248.22" y="483.72" width="4.35" height="4.35" fill="#c8352f" stroke="#2a0808" stroke-width="1.65"/>
<rect x="210.62" y="497.93" width="4.35" height="4.35" fill="#c8352f" stroke="#2a0808" stroke-width="1.65"/>
<rect x="194.72" y="531.73" width="4.35" height="4.35" fill="#c8352f" stroke="#2a0808" stroke-width="1.65"/>
<rect x="279.82" y="495.43" width="4.35" height="4.35" fill="#c8352f" stroke="#2a0808" stroke-width="1.65"/>
<rect x="282.43" y="466.02" width="4.35" height="4.35" fill="#c8352f" stroke="#2a0808" stroke-width="1.65"/>
<rect x="300.22" y="456.62" width="4.35" height="4.35" fill="#c8352f" stroke="#2a0808" stroke-width="1.65"/>
<rect x="335.43" y="414.22" width="4.35" height="4.35" fill="#c8352f" stroke="#2a0808" stroke-width="1.65"/>
<rect x="343.93" y="406.43" width="4.35" height="4.35" fill="#c8352f" stroke="#2a0808" stroke-width="1.65"/>
<rect x="356.22" y="406.43" width="4.35" height="4.35" fill="#c8352f" stroke="#2a0808" stroke-width="1.65"/>
<rect x="365.32" y="417.12" width="4.35" height="4.35" fill="#2a97c9" stroke="#0a2530" stroke-width="1.65"/>
<rect x="355.72" y="424.22" width="4.35" height="4.35" fill="#2a97c9" stroke="#0a2530" stroke-width="1.65"/>
<rect x="360.02" y="425.62" width="4.35" height="4.35" fill="#2a97c9" stroke="#0a2530" stroke-width="1.65"/>
<rect x="337.82" y="428.62" width="4.35" height="4.35" fill="#2a97c9" stroke="#0a2530" stroke-width="1.65"/>
<rect x="348.93" y="430.72" width="4.35" height="4.35" fill="#efe03c" stroke="#2a2408" stroke-width="1.65"/>
<rect x="347.02" y="433.93" width="4.35" height="4.35" fill="#c8352f" stroke="#2a0808" stroke-width="1.65"/>
<rect x="357.32" y="437.93" width="4.35" height="4.35" fill="#2a97c9" stroke="#0a2530" stroke-width="1.65"/>
<rect x="353.32" y="441.22" width="4.35" height="4.35" fill="#efe03c" stroke="#2a2408" stroke-width="1.65"/>
<rect x="364.12" y="446.12" width="4.35" height="4.35" fill="#efe03c" stroke="#2a2408" stroke-width="1.65"/>
<rect x="360.12" y="449.12" width="4.35" height="4.35" fill="#2a97c9" stroke="#0a2530" stroke-width="1.65"/>
<rect x="323.02" y="434.62" width="4.35" height="4.35" fill="#c8352f" stroke="#2a0808" stroke-width="1.65"/>
<rect x="318.02" y="436.93" width="4.35" height="4.35" fill="#c8352f" stroke="#2a0808" stroke-width="1.65"/>
<rect x="313.02" y="441.12" width="4.35" height="4.35" fill="#c8352f" stroke="#2a0808" stroke-width="1.65"/>
<rect x="308.02" y="445.72" width="4.35" height="4.35" fill="#c8352f" stroke="#2a0808" stroke-width="1.65"/>
<rect x="333.12" y="438.52" width="4.35" height="4.35" fill="#c8352f" stroke="#2a0808" stroke-width="1.65"/>
<rect x="338.22" y="440.93" width="4.35" height="4.35" fill="#2a97c9" stroke="#0a2530" stroke-width="1.65"/>
<rect x="326.02" y="448.12" width="4.35" height="4.35" fill="#c8352f" stroke="#2a0808" stroke-width="1.65"/>
<rect x="334.32" y="454.32" width="4.35" height="4.35" fill="#c8352f" stroke="#2a0808" stroke-width="1.65"/>
<rect x="318.12" y="453.12" width="4.35" height="4.35" fill="#c8352f" stroke="#2a0808" stroke-width="1.65"/>
<rect x="349.32" y="456.62" width="4.35" height="4.35" fill="#c8352f" stroke="#2a0808" stroke-width="1.65"/>
<rect x="337.72" y="460.72" width="4.35" height="4.35" fill="#c8352f" stroke="#2a0808" stroke-width="1.65"/>
<rect x="358.22" y="459.72" width="4.35" height="4.35" fill="#efe03c" stroke="#2a2408" stroke-width="1.65"/>
<rect x="359.22" y="463.93" width="4.35" height="4.35" fill="#2a97c9" stroke="#0a2530" stroke-width="1.65"/>
<rect x="337.62" y="472.82" width="4.35" height="4.35" fill="#c8352f" stroke="#2a0808" stroke-width="1.65"/>
<rect x="405.32" y="469.22" width="4.35" height="4.35" fill="#efe03c" stroke="#2a2408" stroke-width="1.65"/>
<rect x="411.43" y="466.72" width="4.35" height="4.35" fill="#efe03c" stroke="#2a2408" stroke-width="1.65"/>
<rect x="416.82" y="475.12" width="4.35" height="4.35" fill="#efe03c" stroke="#2a2408" stroke-width="1.65"/>
<rect x="422.93" y="473.12" width="4.35" height="4.35" fill="#efe03c" stroke="#2a2408" stroke-width="1.65"/>
<rect x="404.22" y="496.32" width="4.35" height="4.35" fill="#efe03c" stroke="#2a2408" stroke-width="1.65"/>
<rect x="380.52" y="521.23" width="4.35" height="4.35" fill="#2a97c9" stroke="#0a2530" stroke-width="1.65"/>
<rect x="398.22" y="404.12" width="4.35" height="4.35" fill="#2a97c9" stroke="#0a2530" stroke-width="1.65"/>
<rect x="406.02" y="404.02" width="4.35" height="4.35" fill="#2a97c9" stroke="#0a2530" stroke-width="1.65"/>
<rect x="409.93" y="399.93" width="4.35" height="4.35" fill="#2a97c9" stroke="#0a2530" stroke-width="1.65"/>
<rect x="414.12" y="399.93" width="4.35" height="4.35" fill="#17905a" stroke="#06301a" stroke-width="1.65"/>
<rect x="391.32" y="409.22" width="4.35" height="4.35" fill="#2a97c9" stroke="#0a2530" stroke-width="1.65"/>
<rect x="393.62" y="413.93" width="4.35" height="4.35" fill="#c8352f" stroke="#2a0808" stroke-width="1.65"/>
<rect x="402.12" y="414.12" width="4.35" height="4.35" fill="#c8352f" stroke="#2a0808" stroke-width="1.65"/>
<rect x="417.43" y="410.12" width="4.35" height="4.35" fill="#2a97c9" stroke="#0a2530" stroke-width="1.65"/>
<rect x="414.12" y="413.82" width="4.35" height="4.35" fill="#2a97c9" stroke="#0a2530" stroke-width="1.65"/>
<rect x="417.43" y="416.72" width="4.35" height="4.35" fill="#2a97c9" stroke="#0a2530" stroke-width="1.65"/>
<rect x="400.43" y="419.52" width="4.35" height="4.35" fill="#17905a" stroke="#06301a" stroke-width="1.65"/>
<rect x="439.52" y="407.72" width="4.35" height="4.35" fill="#2a97c9" stroke="#0a2530" stroke-width="1.65"/>
<rect x="439.52" y="414.82" width="4.35" height="4.35" fill="#c8352f" stroke="#2a0808" stroke-width="1.65"/>
<rect x="407.02" y="423.82" width="4.35" height="4.35" fill="#2a97c9" stroke="#0a2530" stroke-width="1.65"/>
<rect x="412.02" y="426.72" width="4.35" height="4.35" fill="#2a97c9" stroke="#0a2530" stroke-width="1.65"/>
<rect x="419.52" y="428.72" width="4.35" height="4.35" fill="#2a97c9" stroke="#0a2530" stroke-width="1.65"/>
<rect x="409.32" y="434.93" width="4.35" height="4.35" fill="#2a97c9" stroke="#0a2530" stroke-width="1.65"/>
<rect x="414.82" y="437.72" width="4.35" height="4.35" fill="#2a97c9" stroke="#0a2530" stroke-width="1.65"/>
<rect x="414.12" y="441.82" width="4.35" height="4.35" fill="#2a97c9" stroke="#0a2530" stroke-width="1.65"/>
<rect x="418.62" y="445.82" width="4.35" height="4.35" fill="#2a97c9" stroke="#0a2530" stroke-width="1.65"/>
<rect x="428.72" y="422.52" width="4.35" height="4.35" fill="#c8352f" stroke="#2a0808" stroke-width="1.65"/>
<rect x="432.02" y="420.02" width="4.35" height="4.35" fill="#c8352f" stroke="#2a0808" stroke-width="1.65"/>
<rect x="433.32" y="426.72" width="4.35" height="4.35" fill="#c8352f" stroke="#2a0808" stroke-width="1.65"/>
<rect x="428.72" y="430.52" width="4.35" height="4.35" fill="#c8352f" stroke="#2a0808" stroke-width="1.65"/>
<rect x="437.82" y="426.52" width="4.35" height="4.35" fill="#c8352f" stroke="#2a0808" stroke-width="1.65"/>
<rect x="440.02" y="426.02" width="4.35" height="4.35" fill="#c8352f" stroke="#2a0808" stroke-width="1.65"/>
<rect x="446.22" y="422.52" width="4.35" height="4.35" fill="#c8352f" stroke="#2a0808" stroke-width="1.65"/>
<rect x="437.52" y="435.02" width="4.35" height="4.35" fill="#c8352f" stroke="#2a0808" stroke-width="1.65"/>
<rect x="436.43" y="422.52" width="4.35" height="4.35" fill="#2a97c9" stroke="#0a2530" stroke-width="1.65"/>
<rect x="441.22" y="421.93" width="4.35" height="4.35" fill="#2a97c9" stroke="#0a2530" stroke-width="1.65"/>
<rect x="444.93" y="427.22" width="4.35" height="4.35" fill="#2a97c9" stroke="#0a2530" stroke-width="1.65"/>
<rect x="444.02" y="431.72" width="4.35" height="4.35" fill="#2a97c9" stroke="#0a2530" stroke-width="1.65"/>
<rect x="429.43" y="434.82" width="4.35" height="4.35" fill="#2a97c9" stroke="#0a2530" stroke-width="1.65"/>
<rect x="449.12" y="446.12" width="4.35" height="4.35" fill="#2a97c9" stroke="#0a2530" stroke-width="1.65"/>
<rect x="389.82" y="449.22" width="4.35" height="4.35" fill="#c8352f" stroke="#2a0808" stroke-width="1.65"/>
<circle cx="288.4" cy="37.1" r="13.3" fill="#15a65c" stroke="#0e2418" stroke-width="2.3"/><path d="M288.4,37.1 L288.40,23.80 A13.3,13.3 0 0 1 301.70,37.10 Z" fill="#f8da1a" stroke="#0e2418" stroke-width="2.3" stroke-linejoin="miter"/>
<circle cx="310.0" cy="220.0" r="13.3" fill="#e4322a" stroke="#2a0a08" stroke-width="2.3"/><path d="M310.0,220.0 L310.23,206.70 A13.3,13.3 0 0 1 314.33,207.42 Z" fill="#26a2d9" stroke="#2a0a08" stroke-width="2.3" stroke-linejoin="miter"/>
<rect x="23.60" y="419.90" width="4.8" height="4.8" fill="#c8352f" stroke="#2a0808" stroke-width="1.5"/>
<circle cx="26.0" cy="436.50" r="5.3" fill="#e2332a" stroke="#2a0808" stroke-width="1.4"/>
<rect x="23.60" y="448.30" width="4.8" height="4.8" fill="#2a97c9" stroke="#0a2530" stroke-width="1.5"/>
<circle cx="26.0" cy="464.90" r="5.3" fill="#26a2d9" stroke="#0a2530" stroke-width="1.4"/>
<rect x="23.60" y="476.70" width="4.8" height="4.8" fill="#17905a" stroke="#06301a" stroke-width="1.5"/>
<circle cx="26.0" cy="493.30" r="5.3" fill="#17a458" stroke="#06301a" stroke-width="1.4"/>
<rect x="23.60" y="505.10" width="4.8" height="4.8" fill="#efe03c" stroke="#2a2408" stroke-width="1.5"/>
<circle cx="26.0" cy="521.70" r="5.3" fill="#f8da1a" stroke="#2a2408" stroke-width="1.4"/>
<filter id="gf"><feColorMatrix type="identity"/></filter>
<g filter="url(#gf)" font-family="Liberation Sans, sans-serif" font-size="12" fill="#000" stroke="#000" stroke-width="0.55">
<text x="133.0" y="8.8">coordinate 2 (14 %)</text>
<text x="282.3" y="142.8">coordinate 1 (20 %)</text>
<text x="316.4" y="255.1">coordinate 3 (13 %)</text>
<text x="107.6" y="389.2">coordinate 1 (20 %)</text>
<text x="36.2" y="426.20">AP dwarf males</text>
<text x="36.2" y="440.40">AP female shoots</text>
<text x="36.2" y="454.60">KP dwarf males</text>
<text x="36.2" y="468.80">KP female shoots</text>
<text x="36.2" y="483.00">LQ dwarf males</text>
<text x="36.2" y="497.20">LQ female shoots</text>
<text x="36.2" y="511.40">CK dwarf males</text>
<text x="36.2" y="525.60">CK female shoots</text>
</g>
</svg>
</body></html>
